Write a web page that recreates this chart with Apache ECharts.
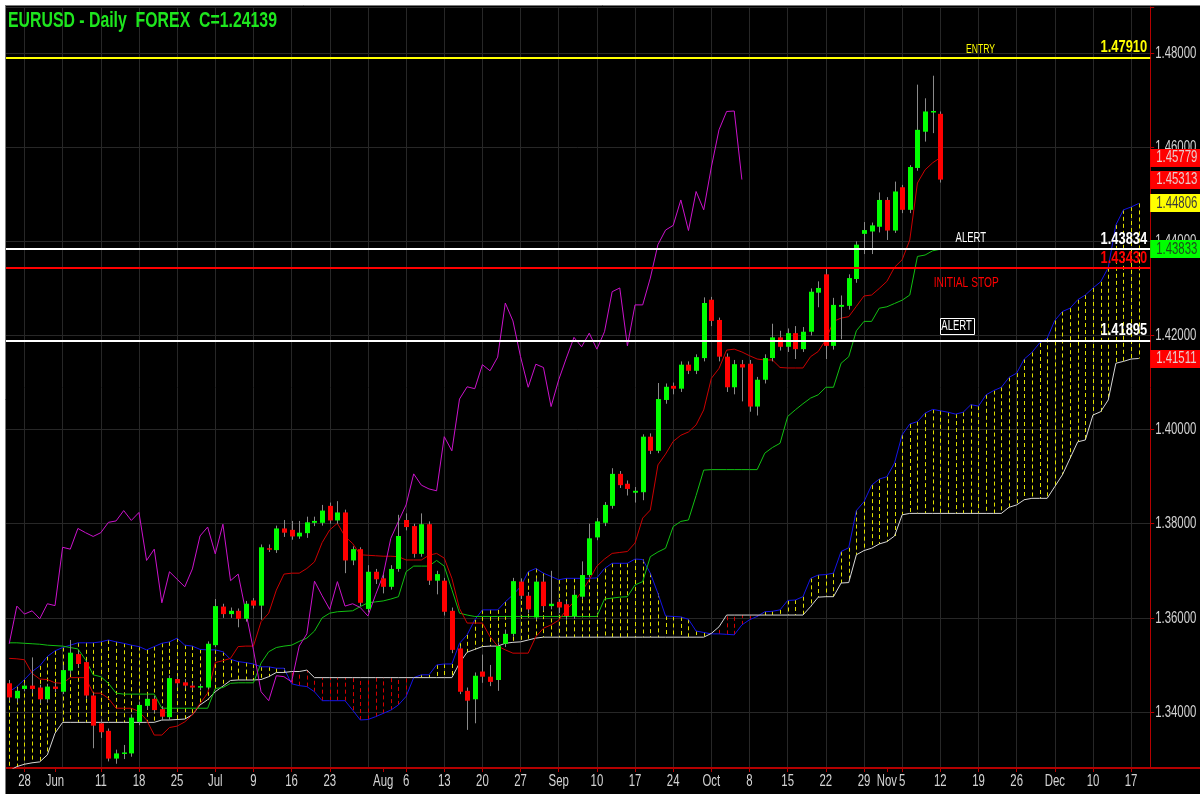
<!DOCTYPE html>
<html>
<head>
<meta charset="utf-8">
<script src="https://cdn.jsdelivr.net/npm/echarts/dist/echarts.min.js"></script>
<style>
  html, body { margin: 0; padding: 0; background: #ffffff; }
  #chart { width: 1200px; height: 794px; }
</style>
</head>
<body>
<div id="chart"></div>
<script>
// EURUSD daily, 2007-05-24 .. 2007-11-12, with Ichimoku Kinko Hyo overlay

// Trading sessions (Mon-Fri) on the time axis, incl. 26 sessions of projected cloud
const dates = [];
for (let d = new Date(Date.UTC(2007, 4, 24)); dates.length < 150; d.setUTCDate(d.getUTCDate() + 1)) {
  const wd = d.getUTCDay();
  if (wd !== 0 && wd !== 6) dates.push(d.toISOString().slice(0, 10));
}

// Time axis labels
const tickDates = ['2007-05-28','2007-06-01','2007-06-11','2007-06-18','2007-06-25','2007-07-02','2007-07-09',
  '2007-07-16','2007-07-23','2007-08-01','2007-08-06','2007-08-13','2007-08-20','2007-08-27','2007-09-03',
  '2007-09-10','2007-09-17','2007-09-24','2007-10-01','2007-10-08','2007-10-15','2007-10-22','2007-10-29',
  '2007-11-01','2007-11-05','2007-11-12','2007-11-19','2007-11-26','2007-12-03','2007-12-10','2007-12-17'];
const tickTexts = ['28','Jun','11','18','25','Jul','9','16','23','Aug','6','13','20','27','Sep',
  '10','17','24','Oct','8','15','22','29','Nov','5','12','19','26','Dec','10','17'];

// Price scale labels
const priceTicks = [1.34, 1.36, 1.38, 1.40, 1.42, 1.44, 1.46, 1.48];

// Daily candles
const opens = [
  1.3461,1.3429,1.3449,1.3456,1.3452,1.3427,1.3454,1.3443,1.3488,1.3523,
  1.3506,1.3435,1.3376,1.3360,1.3301,1.3311,1.3312,1.3379,1.3413,1.3428,
  1.3406,1.3389,1.3470,1.3463,1.3456,1.3452,1.3452,1.3542,1.3624,1.3608,
  1.3615,1.3598,1.3637,1.3626,1.3748,1.3744,1.3790,1.3787,1.3773,1.3780,
  1.3802,1.3802,1.3838,1.3807,1.3824,1.3722,1.3746,1.3619,1.3698,1.3684,
  1.3666,1.3704,1.3808,1.3795,1.3736,1.3799,1.3679,1.3679,1.3615,1.3535,
  1.3445,1.3427,1.3486,1.3475,1.3468,1.3545,1.3566,1.3677,1.3647,1.3601,
  1.3677,1.3625,1.3634,1.3629,1.3604,1.3645,1.3691,1.3771,1.3802,1.3838,
  1.3906,1.3885,1.3866,1.3867,1.3985,1.3955,1.4063,1.4093,1.4087,1.4138,
  1.4125,1.4152,1.4276,1.4233,1.4155,1.4090,1.4139,1.4140,1.4049,1.4106,
  1.4152,1.4196,1.4176,1.4205,1.4171,1.4208,1.4291,1.4330,1.4178,1.4261,
  1.4263,1.4320,1.4416,1.4421,1.4431,1.4488,1.4423,1.4515,1.4467,1.4556,
  1.4633,1.4675,1.4671];
const highs = [
  1.3468,1.3450,1.3462,1.3516,1.3458,1.3460,1.3462,1.3500,1.3553,1.3530,
  1.3510,1.3440,1.3385,1.3365,1.3320,1.3330,1.3395,1.3422,1.3435,1.3434,
  1.3412,1.3478,1.3476,1.3470,1.3462,1.3460,1.3550,1.3640,1.3630,1.3622,
  1.3620,1.3636,1.3642,1.3756,1.3756,1.3796,1.3808,1.3806,1.3806,1.3815,
  1.3815,1.3840,1.3845,1.3848,1.3830,1.3752,1.3750,1.3712,1.3704,1.3692,
  1.3712,1.3819,1.3822,1.3800,1.3822,1.3805,1.3700,1.3685,1.3622,1.3540,
  1.3452,1.3484,1.3522,1.3500,1.3548,1.3575,1.3685,1.3684,1.3655,1.3684,
  1.3690,1.3700,1.3640,1.3636,1.3660,1.3720,1.3800,1.3812,1.3846,1.3918,
  1.3912,1.3892,1.3878,1.3990,1.3992,1.4099,1.4098,1.4100,1.4145,1.4145,
  1.4160,1.4281,1.4282,1.4238,1.4162,1.4148,1.4148,1.4148,1.4112,1.4160,
  1.4225,1.4210,1.4215,1.4220,1.4218,1.4300,1.4315,1.4342,1.4280,1.4285,
  1.4330,1.4400,1.4441,1.4440,1.4504,1.4494,1.4527,1.4520,1.4562,1.4733,
  1.4704,1.4752,1.4676];
const lows = [
  1.3424,1.3420,1.3444,1.3440,1.3418,1.3420,1.3442,1.3438,1.3480,1.3495,
  1.3428,1.3323,1.3345,1.3295,1.3290,1.3300,1.3305,1.3372,1.3405,1.3398,
  1.3382,1.3383,1.3452,1.3450,1.3446,1.3446,1.3448,1.3538,1.3600,1.3600,
  1.3580,1.3592,1.3620,1.3596,1.3740,1.3738,1.3772,1.3766,1.3768,1.3770,
  1.3795,1.3796,1.3800,1.3800,1.3695,1.3712,1.3625,1.3612,1.3672,1.3652,
  1.3660,1.3698,1.3786,1.3728,1.3730,1.3670,1.3650,1.3605,1.3525,1.3438,
  1.3362,1.3376,1.3462,1.3455,1.3445,1.3538,1.3560,1.3640,1.3610,1.3595,
  1.3615,1.3618,1.3610,1.3596,1.3598,1.3640,1.3686,1.3765,1.3795,1.3832,
  1.3876,1.3860,1.3845,1.3850,1.3948,1.3950,1.4055,1.4075,1.4080,1.4118,
  1.4118,1.4145,1.4220,1.4145,1.4080,1.4075,1.4060,1.4038,1.4030,1.4098,
  1.4145,1.4168,1.4165,1.4150,1.4165,1.4200,1.4260,1.4150,1.4170,1.4192,
  1.4255,1.4312,1.4373,1.4373,1.4419,1.4403,1.4418,1.4460,1.4460,1.4550,
  1.4612,1.4630,1.4525];
const closes = [
  1.3431,1.3445,1.3456,1.3449,1.3427,1.3454,1.3449,1.3489,1.3526,1.3502,
  1.3435,1.3371,1.3357,1.3301,1.3312,1.3314,1.3388,1.3415,1.3428,1.3404,
  1.3390,1.3472,1.3461,1.3456,1.3452,1.3455,1.3545,1.3625,1.3608,1.3615,
  1.3598,1.3630,1.3626,1.3750,1.3746,1.3790,1.3781,1.3773,1.3781,1.3803,
  1.3806,1.3828,1.3807,1.3824,1.3722,1.3746,1.3632,1.3698,1.3682,1.3666,
  1.3704,1.3774,1.3793,1.3736,1.3799,1.3679,1.3693,1.3613,1.3532,1.3443,
  1.3424,1.3477,1.3475,1.3464,1.3540,1.3566,1.3678,1.3647,1.3618,1.3677,
  1.3625,1.3630,1.3622,1.3604,1.3649,1.3691,1.3769,1.3805,1.3840,1.3906,
  1.3882,1.3874,1.3870,1.3985,1.3955,1.4065,1.4091,1.4087,1.4138,1.4125,
  1.4154,1.4269,1.4231,1.4155,1.4090,1.4139,1.4132,1.4049,1.4106,1.4152,
  1.4196,1.4176,1.4205,1.4171,1.4208,1.4293,1.4301,1.4178,1.4265,1.4265,
  1.4322,1.4393,1.4424,1.4434,1.4488,1.4423,1.4506,1.4467,1.4558,1.4637,
  1.4676,1.4677,1.45313];

// Tenkan-sen (conversion line)
const tenkan = [
  1.3514,1.3513,1.3511,1.3482,1.3470,1.3469,1.3462,1.3461,1.3473,1.3473,
  1.3473,1.3440,1.3440,1.3429,1.3408,1.3408,1.3408,1.3401,1.3383,1.3351,
  1.3351,1.3367,1.3370,1.3379,1.3394,1.3418,1.3440,1.3505,1.3509,1.3514,
  1.3539,1.3540,1.3540,1.3592,1.3610,1.3659,1.3693,1.3695,1.3695,1.3705,
  1.3719,1.3760,1.3787,1.3801,1.3773,1.3758,1.3734,1.3733,1.3732,1.3731,
  1.3731,1.3730,1.3723,1.3723,1.3723,1.3733,1.3737,1.3727,1.3684,1.3620,
  1.3589,1.3589,1.3589,1.3560,1.3540,1.3532,1.3525,1.3525,1.3525,1.3560,
  1.3578,1.3585,1.3595,1.3617,1.3634,1.3655,1.3681,1.3710,1.3725,1.3737,
  1.3739,1.3741,1.3759,1.3812,1.3829,1.3925,1.3948,1.3975,1.3988,1.3995,
  1.4010,1.4042,1.4109,1.4130,1.4169,1.4171,1.4165,1.4157,1.4150,1.4148,
  1.4148,1.4132,1.4131,1.4131,1.4131,1.4155,1.4166,1.4191,1.4230,1.4237,
  1.4240,1.4262,1.4284,1.4286,1.4300,1.4315,1.4345,1.4361,1.4403,1.4524,
  1.4552,1.4567,1.45779];

// Kijun-sen (base line)
const kijun = [
  1.3547,1.3547,1.3546,1.3545,1.3544,1.3542,1.3541,1.3540,1.3537,1.3534,
  1.3511,1.3479,1.3475,1.3461,1.3440,1.3438,1.3438,1.3438,1.3438,1.3438,
  1.3408,1.3408,1.3408,1.3408,1.3408,1.3408,1.3408,1.3450,1.3452,1.3461,
  1.3462,1.3462,1.3462,1.3504,1.3528,1.3537,1.3540,1.3542,1.3550,1.3557,
  1.3572,1.3600,1.3610,1.3613,1.3614,1.3615,1.3624,1.3632,1.3634,1.3636,
  1.3640,1.3645,1.3698,1.3710,1.3710,1.3710,1.3722,1.3710,1.3660,1.3610,
  1.3606,1.3603,1.3603,1.3603,1.3603,1.3603,1.3603,1.3603,1.3603,1.3603,
  1.3603,1.3603,1.3603,1.3603,1.3603,1.3603,1.3603,1.3603,1.3640,1.3642,
  1.3644,1.3645,1.3670,1.3677,1.3730,1.3740,1.3748,1.3794,1.3805,1.3808,
  1.3860,1.3914,1.3915,1.3915,1.3915,1.3915,1.3915,1.3915,1.3915,1.3950,
  1.3962,1.3971,1.4028,1.4042,1.4055,1.4067,1.4074,1.4090,1.4090,1.4141,
  1.4155,1.4210,1.4230,1.4230,1.4258,1.4261,1.4268,1.4275,1.4286,1.4368,
  1.4371,1.4380,1.43833];

// Senkou span A (leading, plotted 26 sessions ahead)
const senkouA = [
  1.3443,1.3454,1.3469,1.3486,1.3498,1.3518,1.3530,1.3537,1.3542,1.3547,
  1.3547,1.3547,1.3549,1.3553,1.3549,1.3546,1.3542,1.3539,1.3532,1.3539,
  1.3546,1.3549,1.3557,1.3542,1.3540,1.3533,1.3532,1.3532,1.3528,1.3512,
  1.3507,1.3505,1.3502,1.3496,1.3496,1.3493,1.3493,1.3460,1.3456,1.3454,
  1.3443,1.3424,1.3424,1.3424,1.3424,1.3404,1.3383,1.3384,1.3390,1.3397,
  1.3404,1.3415,1.3433,1.3473,1.3479,1.3479,1.3500,1.3502,1.3502,1.3546,
  1.3564,1.3596,1.3617,1.3617,1.3617,1.3634,1.3649,1.3666,1.3698,1.3705,
  1.3695,1.3688,1.3681,1.3684,1.3684,1.3684,1.3684,1.3685,1.3705,1.3716,
  1.3716,1.3716,1.3725,1.3724,1.3695,1.3652,1.3604,1.3603,1.3602,1.3597,
  1.3572,1.3569,1.3566,1.3566,1.3565,1.3564,1.3585,1.3596,1.3603,1.3613,
  1.3614,1.3617,1.3637,1.3638,1.3645,1.3684,1.3691,1.3692,1.3695,1.3741,
  1.3749,1.3828,1.3847,1.3882,1.3895,1.3900,1.3929,1.3989,1.4012,1.4017,
  1.4035,1.4043,1.4040,1.4037,1.4033,1.4037,1.4053,1.4050,1.4074,1.4083,
  1.4090,1.4111,1.4120,1.4150,1.4164,1.4184,1.4194,1.4232,1.4251,1.4258,
  1.4276,1.4286,1.4301,1.4314,1.4344,1.4435,1.4467,1.4473,1.44806];

// Senkou span B (leading, plotted 26 sessions ahead)
const senkouB = [
  1.3275,1.3284,1.3289,1.3292,1.3294,1.3309,1.3355,1.3378,1.3378,1.3378,
  1.3378,1.3378,1.3378,1.3378,1.3378,1.3378,1.3378,1.3378,1.3378,1.3378,
  1.3383,1.3383,1.3384,1.3385,1.3394,1.3415,1.3426,1.3443,1.3455,1.3467,
  1.3468,1.3468,1.3468,1.3469,1.3475,1.3484,1.3484,1.3486,1.3486,1.3489,
  1.3473,1.3473,1.3473,1.3473,1.3473,1.3473,1.3473,1.3473,1.3473,1.3473,
  1.3473,1.3473,1.3473,1.3473,1.3473,1.3473,1.3473,1.3473,1.3473,1.3504,
  1.3527,1.3533,1.3539,1.3540,1.3540,1.3546,1.3548,1.3549,1.3553,1.3557,
  1.3559,1.3559,1.3559,1.3559,1.3559,1.3559,1.3559,1.3559,1.3559,1.3559,
  1.3559,1.3559,1.3559,1.3559,1.3559,1.3559,1.3559,1.3559,1.3559,1.3559,
  1.3559,1.3559,1.3567,1.3581,1.3606,1.3606,1.3606,1.3606,1.3606,1.3606,
  1.3606,1.3606,1.3606,1.3606,1.3606,1.3624,1.3644,1.3645,1.3645,1.3674,
  1.3675,1.3734,1.3743,1.3748,1.3757,1.3762,1.3774,1.3819,1.3822,1.3822,
  1.3822,1.3822,1.3822,1.3822,1.3822,1.3822,1.3822,1.3822,1.3822,1.3822,
  1.3822,1.3835,1.3840,1.3851,1.3854,1.3854,1.3854,1.3879,1.3904,1.3939,
  1.3974,1.3978,1.4031,1.4038,1.4063,1.4141,1.4145,1.4150,1.41511];

// Chikou span (lagging line): each close drawn 26 sessions back
const chikou = closes.slice(26);

// Trade levels
const levelValues = [1.47910, 1.43834, 1.43430, 1.41895];
const levelNames  = ['ENTRY', 'ALERT', 'INITIAL STOP', 'ALERT'];
const levelColors = ['#ffff00', '#ffffff', '#ff0000', '#ffffff'];

// Last values flagged on the price scale
const flagValues = [1.45779, 1.45313, 1.44806, 1.43833, 1.41511];
const flagFills  = ['#ff0000', '#ff0000', '#ffff00', '#00ff00', '#ff0000'];
const flagInks   = ['#e8caca', '#e8caca', '#3a3a3a', '#1d4d1d', '#e8caca'];

const FONT = "'Liberation Sans', Arial, sans-serif";
const NARROW = 0.67;   // horizontal squeeze giving the condensed chart face
const AXIS_RED = '#b40000';

const tickMap = {};
tickDates.forEach((d, k) => { tickMap[d] = tickTexts[k]; });
const isTick = (idx, val) => Object.prototype.hasOwnProperty.call(tickMap, val);
const mondays = dates.filter(d => new Date(d + 'T00:00:00Z').getUTCDay() === 1);

const candleData = opens.map((o, i) => [i, o, highs[i], lows[i], closes[i]]);
const cloudData = senkouA.map((a, i) => [i, a, senkouB[i]]);

function renderCandle(params, api) {
  const i = api.value(0);
  const o = api.value(1), h = api.value(2), l = api.value(3), c = api.value(4);
  const pO = api.coord([i, o]), pC = api.coord([i, c]);
  const pH = api.coord([i, h]), pL = api.coord([i, l]);
  const cx = Math.round(pO[0]);
  const top = Math.min(pO[1], pC[1]);
  const hgt = Math.max(Math.abs(pO[1] - pC[1]), 1.5);
  return {
    type: 'group',
    children: [
      { type: 'line', shape: { x1: cx + 0.5, y1: pH[1], x2: cx + 0.5, y2: pL[1] },
        style: { stroke: '#8a8a8a', lineWidth: 1 } },
      { type: 'rect', shape: { x: cx - 2, y: top, width: 5, height: hgt },
        style: { fill: c >= o ? '#00ff00' : '#ff0000' } }
    ]
  };
}

function renderCloud(params, api) {
  const i = api.value(0);
  const a = api.value(1), b = api.value(2);
  const p1 = api.coord([i, a]), p2 = api.coord([i, b]);
  const x = Math.round(p1[0]) + 0.5;
  return {
    type: 'line',
    shape: { x1: x, y1: p1[1], x2: x, y2: p2[1] },
    style: { stroke: a >= b ? '#e0e000' : '#d40000', lineWidth: 1, lineDash: [4, 3] }
  };
}

const lineBase = { type: 'line', symbol: 'none', silent: true, animation: false, z: 2 };

const chart = echarts.init(document.getElementById('chart'), null, { renderer: 'canvas' });
chart.setOption({
  backgroundColor: '#000000',
  animation: false,
  grid: { left: 5.4, right: 49.8, top: 7, bottom: 26, show: false, containLabel: false, outerBoundsMode: 'none' },
  xAxis: {
    type: 'category',
    data: dates,
    boundaryGap: true,
    axisLine: { show: true, lineStyle: { color: AXIS_RED, width: 2 } },
    axisTick: { show: true, alignWithLabel: true, interval: isTick, length: 4, lineStyle: { color: AXIS_RED } },
    axisLabel: { show: false },
    splitLine: { show: false }
  },
  yAxis: {
    type: 'value',
    position: 'right',
    min: 1.3281,
    max: 1.4898,
    splitNumber: 8,
    axisLine: { show: true, lineStyle: { color: AXIS_RED, width: 1 } },
    axisTick: { show: true, length: 4, lineStyle: { color: AXIS_RED } },
    axisLabel: { show: false },
    splitLine: { show: true, lineStyle: { color: '#272727', width: 1 } }
  },
  series: [
    {
      name: 'Kumo', type: 'custom', renderItem: renderCloud, data: cloudData,
      encode: { x: 0, y: [1, 2] }, silent: true, animation: false, z: 1, clip: true
    },
    Object.assign({}, lineBase, {
      name: 'Senkou A', data: senkouA, lineStyle: { color: '#1414e6', width: 1 },
      markLine: {
        silent: true, symbol: 'none', animation: false, z: 0,
        label: { show: false },
        lineStyle: { color: '#272727', width: 1, type: 'solid' },
        data: mondays.map(d => ({ xAxis: d }))
      }
    }),
    Object.assign({}, lineBase, { name: 'Senkou B', data: senkouB, lineStyle: { color: '#d6d6d6', width: 1 } }),
    Object.assign({}, lineBase, { name: 'Kijun', data: kijun, lineStyle: { color: '#12c012', width: 1 } }),
    Object.assign({}, lineBase, {
      name: 'Tenkan', data: tenkan, lineStyle: { color: '#cc0000', width: 1 },
      markLine: {
        silent: true, symbol: 'none', animation: false, z: 5, precision: 6,
        label: { show: false },
        data: levelValues.map((v, k) => ({
          yAxis: v,
          lineStyle: { color: levelColors[k], width: 2, type: 'solid' }
        }))
      }
    }),
    Object.assign({}, lineBase, { name: 'Chikou', data: chikou, lineStyle: { color: '#cc12cc', width: 1 } }),
    {
      name: 'EURUSD', type: 'custom', renderItem: renderCandle, data: candleData,
      encode: { x: 0, y: [1, 2, 3, 4] }, silent: true, animation: false, z: 3, clip: true
    }
  ]
});

// Text layer: condensed labels placed through the chart's own axes
const px = d => chart.convertToPixel({ xAxisIndex: 0 }, d);
const py = v => chart.convertToPixel({ yAxisIndex: 0 }, v);
function label(text, x, y, o) {
  return {
    type: 'text', x, y, scaleX: o.sx || NARROW, z: o.z || 60, silent: true,
    style: {
      text, fill: o.color, font: (o.bold ? 'bold ' : '') + o.size + 'px ' + FONT,
      align: o.align || 'center', verticalAlign: 'middle'
    }
  };
}

const gridRight = 1200 - 49.8;
const overlay = [
  { type: 'rect', x: 0, y: 0, shape: { width: 1200, height: 5 }, style: { fill: '#ffffff' }, z: 100 },
  { type: 'rect', x: 0, y: 0, shape: { width: 5, height: 794 }, style: { fill: '#ffffff' }, z: 100 },
  { type: 'line', shape: { x1: 5, y1: 5.5, x2: 1200, y2: 5.5 }, style: { stroke: '#7a7a7a', lineWidth: 1 }, z: 100 },
  { type: 'line', shape: { x1: 5.5, y1: 5, x2: 5.5, y2: 794 }, style: { stroke: '#7a7a7a', lineWidth: 1 }, z: 100 },
  { type: 'line', shape: { x1: gridRight, y1: 768, x2: 1200, y2: 768 }, style: { stroke: AXIS_RED, lineWidth: 2 }, z: 50 },
  label('EURUSD - Daily  FOREX  C=1.24139', 8, 20.5, { color: '#1ee61e', size: 22, bold: true, align: 'left', sx: 0.72 })
];

// time axis labels
tickDates.forEach((d, k) => {
  overlay.push(label(tickTexts[k], px(d), 781, { color: '#d4d4d4', size: 17 }));
});

// price scale labels
priceTicks.forEach(v => {
  overlay.push(label(v.toFixed(5), gridRight + 5, py(v), { color: '#d4d4d4', size: 17, align: 'left' }));
});

// flagged last values
flagValues.forEach((v, k) => {
  const y = py(v);
  overlay.push({ type: 'rect', x: gridRight, y: Math.round(y) - 9, shape: { width: 50, height: 18 },
    style: { fill: flagFills[k] }, z: 70, silent: true });
  overlay.push(label(v.toFixed(5), gridRight + 6, y, { color: flagInks[k], size: 17, align: 'left', z: 71 }));
});

// level values, right end above each line
levelValues.forEach((v, k) => {
  overlay.push(label(v.toFixed(5), gridRight - 3, py(v) - 10,
    { color: levelColors[k], size: 17, bold: true, align: 'right', sx: 0.76 }));
});

// level names
overlay.push(label(levelNames[0], px(dates[127]) + 2, py(levelValues[0]) - 8, { color: levelColors[0], size: 12, sx: 0.72 }));
overlay.push(label(levelNames[1], px(dates[126]), py(levelValues[1]) - 11, { color: levelColors[1], size: 14, sx: 0.68 }));
overlay.push(label(levelNames[2], px(dates[125]) + 3, py(levelValues[2]) + 15, { color: levelColors[2], size: 15, sx: 0.68 }));
const boxX = px(dates[124]) + 1, boxY = py(levelValues[3]) - 14;
overlay.push({ type: 'rect', x: Math.round(boxX - 17) + 0.5, y: Math.round(boxY - 8) + 0.5, shape: { width: 34, height: 16 },
  style: { fill: '#000000', stroke: '#ffffff', lineWidth: 1 }, z: 59, silent: true });
overlay.push(label(levelNames[3], boxX, boxY, { color: levelColors[3], size: 14, sx: 0.68 }));

chart.setOption({ graphic: overlay });
</script>
</body>
</html>
